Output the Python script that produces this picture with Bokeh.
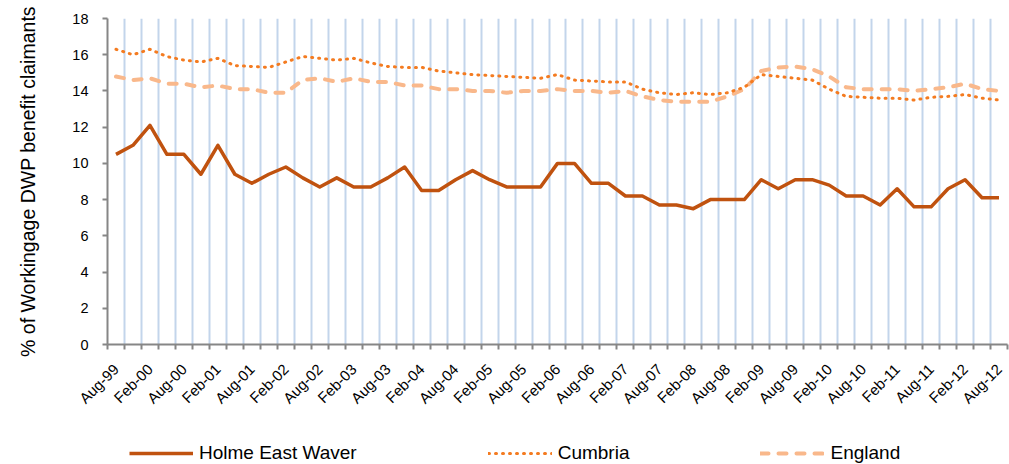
from math import pi
from bokeh.plotting import figure
from bokeh.layouts import column
from bokeh.models import (Range1d, FixedTicker, Legend, LegendItem, ColumnDataSource)
from bokeh.embed import file_html
from bokeh.resources import INLINE

quarters = ["Aug-99", "Nov-99", "Feb-00", "May-00", "Aug-00", "Nov-00", "Feb-01", "May-01",
            "Aug-01", "Nov-01", "Feb-02", "May-02", "Aug-02", "Nov-02", "Feb-03", "May-03",
            "Aug-03", "Nov-03", "Feb-04", "May-04", "Aug-04", "Nov-04", "Feb-05", "May-05",
            "Aug-05", "Nov-05", "Feb-06", "May-06", "Aug-06", "Nov-06", "Feb-07", "May-07",
            "Aug-07", "Nov-07", "Feb-08", "May-08", "Aug-08", "Nov-08", "Feb-09", "May-09",
            "Aug-09", "Nov-09", "Feb-10", "May-10", "Aug-10", "Nov-10", "Feb-11", "May-11",
            "Aug-11", "Nov-11", "Feb-12", "May-12", "Aug-12"]

holme = [10.5, 11.0, 12.1, 10.5, 10.5, 9.4, 11.0, 9.4, 8.9, 9.4, 9.8, 9.2, 8.7, 9.2, 8.7, 8.7,
         9.2, 9.8, 8.5, 8.5, 9.1, 9.6, 9.1, 8.7, 8.7, 8.7, 10.0, 10.0, 8.9, 8.9, 8.2, 8.2,
         7.7, 7.7, 7.5, 8.0, 8.0, 8.0, 9.1, 8.6, 9.1, 9.1, 8.8, 8.2, 8.2, 7.7, 8.6, 7.6,
         7.6, 8.6, 9.1, 8.1, 8.1]

cumbria = [16.3, 16.0, 16.3, 15.9, 15.7, 15.6, 15.8, 15.4, 15.35, 15.3, 15.6, 15.9, 15.8, 15.7,
           15.8, 15.55, 15.35, 15.3, 15.3, 15.1, 15.0, 14.9, 14.85, 14.8, 14.75, 14.7, 14.9,
           14.6, 14.55, 14.5, 14.5, 14.1, 13.9, 13.8, 13.9, 13.8, 13.9, 14.2, 14.9, 14.8,
           14.7, 14.6, 14.1, 13.7, 13.65, 13.6, 13.6, 13.5, 13.65, 13.7, 13.8, 13.6, 13.5]

england = [14.8, 14.6, 14.7, 14.4, 14.4, 14.2, 14.3, 14.1, 14.1, 13.9, 13.9, 14.6, 14.7, 14.5,
           14.7, 14.5, 14.5, 14.3, 14.3, 14.1, 14.1, 14.0, 14.0, 13.9, 14.0, 14.0, 14.1, 14.0,
           14.0, 13.9, 14.0, 13.7, 13.5, 13.4, 13.4, 13.4, 13.7, 14.1, 15.1, 15.3, 15.35,
           15.2, 14.8, 14.2, 14.1, 14.1, 14.1, 14.0, 14.1, 14.2, 14.4, 14.1, 14.0]

series_names = ["Holme East Waver", "Cumbria", "England"]
series_cols = ["holme", "cumbria", "england"]
y_ticks = [0, 2, 4, 6, 8, 10, 12, 14, 16, 18]

n = len(quarters)
xs = list(range(n))
src = ColumnDataSource(dict(x=xs, holme=holme, cumbria=cumbria, england=england))

FONT = "Liberation Sans"
AXIS_COL = "#868686"
STYLES = [dict(line_color="#C0520F", line_width=3.5, line_join="round"),
          dict(line_color="#F47B20", line_width=3, line_dash="1 6", line_cap="round",
               line_join="round"),
          dict(line_color="#F9B88B", line_width=4, line_dash="8 10", line_cap="round",
               line_join="round")]

p = figure(width=1009, height=420, output_backend="svg", toolbar_location=None,
           x_range=Range1d(-0.5, n - 0.5), y_range=Range1d(0, 18),
           min_border_left=107, min_border_right=2, min_border_top=18, min_border_bottom=76)
p.outline_line_color = None
p.background_fill_color = "white"
p.border_fill_color = "white"

# x axis: labels at every second category centre, tick marks at category boundaries
label_ticks = xs[::2]
boundaries = [i - 0.5 for i in range(n + 1)]
p.xaxis.ticker = FixedTicker(ticks=label_ticks, minor_ticks=boundaries)
p.xaxis.major_label_overrides = {i: quarters[i] for i in label_ticks}
p.xaxis.major_label_orientation = pi / 4
p.xaxis.major_tick_out = 0
p.xaxis.major_tick_in = 0
p.xaxis.minor_tick_out = 5
p.xaxis.minor_tick_in = 0
p.xaxis.minor_tick_line_color = AXIS_COL
p.xaxis.minor_tick_line_width = 2
p.xaxis.axis_line_color = AXIS_COL
p.xaxis.axis_line_width = 2
p.xaxis.major_label_text_font = FONT
p.xaxis.major_label_text_font_size = "15px"
p.xaxis.major_label_text_color = "black"
p.xaxis.major_label_standoff = 17

p.xgrid.ticker = FixedTicker(ticks=boundaries[1:])
p.xgrid.grid_line_color = "#C3D5EB"
p.xgrid.grid_line_width = 2

# y axis
p.yaxis.ticker = FixedTicker(ticks=y_ticks)
p.yaxis.minor_tick_line_color = None
p.yaxis.major_tick_out = 5
p.yaxis.major_tick_in = 0
p.yaxis.major_tick_line_color = AXIS_COL
p.yaxis.major_tick_line_width = 2
p.yaxis.axis_line_color = AXIS_COL
p.yaxis.axis_line_width = 2
p.yaxis.major_label_text_font = FONT
p.yaxis.major_label_text_font_size = "14.5px"
p.yaxis.major_label_text_color = "black"
p.yaxis.major_label_standoff = 14
p.yaxis.axis_label = "% of Workingage DWP benefit claimants"
p.yaxis.axis_label_text_font = FONT
p.yaxis.axis_label_text_font_size = "19.5px"
p.yaxis.axis_label_text_font_style = "normal"
p.yaxis.axis_label_text_color = "black"
p.yaxis.axis_label_standoff = 30
p.ygrid.grid_line_color = None

for col, st in reversed(list(zip(series_cols, STYLES))):
    p.line("x", col, source=src, **st)

# legend strip below the chart (its series lie outside its visible range)
lg = figure(width=1009, height=44, output_backend="svg", toolbar_location=None,
            x_range=Range1d(0, 1), y_range=Range1d(0, 1),
            x_axis_location=None, y_axis_location=None, min_border=0)
lg.outline_line_color = None
lg.xgrid.visible = False
lg.ygrid.visible = False
legend_renderers = [lg.line("x", col, source=src, **st) for col, st in zip(series_cols, STYLES)]

legend = Legend(items=[LegendItem(label=name, renderers=[r])
                       for name, r in zip(series_names, legend_renderers)],
                orientation="horizontal", location=(22, 0),
                spacing=131, glyph_width=64, glyph_height=20, label_standoff=6,
                label_text_font=FONT, label_text_font_size="19px", label_text_color="black",
                border_line_color=None, background_fill_alpha=0, padding=0, margin=0)
lg.add_layout(legend, "center")

layout = column(p, lg, spacing=0)
open("out.html", "w").write(file_html(layout, INLINE))
